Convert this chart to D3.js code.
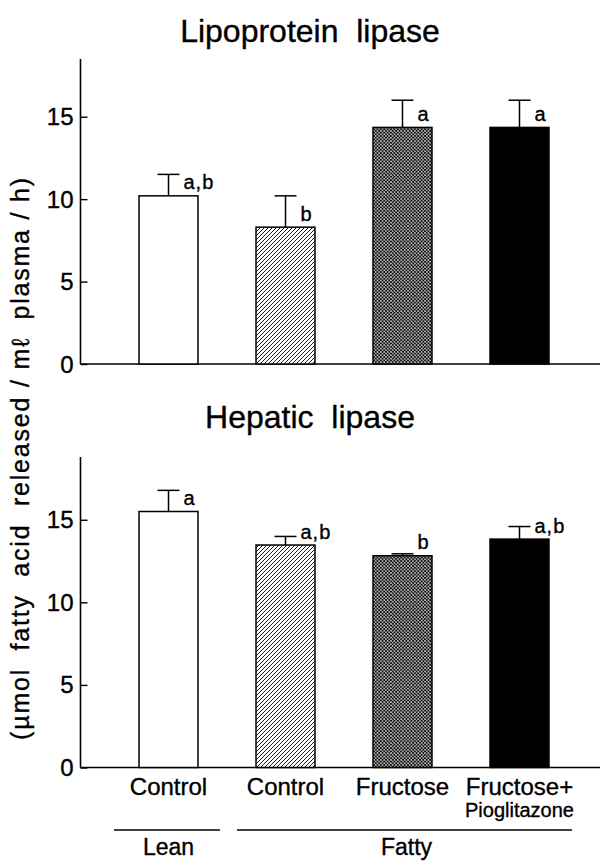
<!DOCTYPE html>
<html>
<head>
<meta charset="utf-8">
<script src="https://cdn.jsdelivr.net/npm/d3@7"></script>
<style>
  html, body { margin: 0; padding: 0; background: #fff; }
  svg { display: block; }
  text { font-family: "Liberation Sans", Arial, sans-serif; fill: #000; stroke: #000; stroke-width: 0.35px; white-space: pre; }
</style>
</head>
<body>
<svg id="chart" width="604" height="861"></svg>
<script>
// ---------- data ----------
const groups = ["LeanControl", "FattyControl", "FattyFructose", "FattyFructosePio"];
const catLine1 = ["Control", "Control", "Fructose", "Fructose+"];
const catLine2 = ["", "", "", "Pioglitazone"];
const fills = ["white", "hatch", "cross", "black"];

const lplMean = [10.2, 8.3, 14.35, 14.35];
const lplSE = [1.3, 1.9, 1.65, 1.65];
const lplLetters = ["a,b", "b", "a", "a"];

const hlMean = [15.5, 13.47, 12.82, 13.83];
const hlSE = [1.28, 0.52, 0.12, 0.76];
const hlLetters = ["a", "a,b", "b", "a,b"];

const yTicks = [0, 5, 10, 15];
const titles = ["Lipoprotein  lipase", "Hepatic  lipase"];
const yTitle = "(µmol  fatty  acid  released / mℓ  plasma / h)";
const strains = ["Lean", "Fatty"];

// ---------- drawing ----------
const svg = d3.select("#chart");
const defs = svg.append("defs");

const hatch = defs.append("pattern").attr("id", "hatch")
  .attr("patternUnits", "userSpaceOnUse").attr("width", 4).attr("height", 4);
hatch.append("rect").attr("width", 4).attr("height", 4).attr("fill", "white");
hatch.append("path").attr("d", "M-1,1 L1,-1 M0,4 L4,0 M3,5 L5,3")
  .attr("stroke", "black").attr("stroke-width", 0.9);

const cross = defs.append("pattern").attr("id", "cross")
  .attr("patternUnits", "userSpaceOnUse").attr("width", 3.4).attr("height", 3.4);
cross.append("rect").attr("width", 3.4).attr("height", 3.4).attr("fill", "white");
cross.append("path").attr("d", "M-1,1 L1,-1 M0,3.4 L3.4,0 M2.4,4.4 L4.4,2.4 M-1,2.4 L1,4.4 M0,0 L3.4,3.4 M2.4,-1 L4.4,1")
  .attr("stroke", "black").attr("stroke-width", 1.05);

const fillFor = f => f === "hatch" ? "url(#hatch)" : f === "cross" ? "url(#cross)" : f;

const x = d3.scaleBand().domain(groups).range([110, 578])
  .paddingInner(0.496).paddingOuter(0.248);

const axisX = 80.5;
const axisRight = 600;

function panel(y0, yTop, domainMax, means, ses, letters, title, titleY) {
  const y = d3.scaleLinear().domain([0, domainMax]).range([y0, yTop]);
  const g = svg.append("g");

  g.append("text").attr("x", 310).attr("y", titleY).attr("text-anchor", "middle")
    .attr("font-size", 32).text(title);

  // y axis (ticks inward)
  const yAxis = d3.axisRight(y).tickValues(yTicks).tickSize(7).tickFormat("");
  const ya = g.append("g").attr("transform", `translate(${axisX},0)`).call(yAxis);
  ya.select(".domain").remove();
  ya.selectAll("line").attr("stroke", "black").attr("stroke-width", 1.4);
  g.append("line").attr("x1", axisX).attr("x2", axisX).attr("y1", yTop).attr("y2", y0)
    .attr("stroke", "black").attr("stroke-width", 1.6);
  g.selectAll(".tl").data(yTicks).enter().append("text")
    .attr("x", axisX - 7).attr("y", d => y(d) + 8.5).attr("text-anchor", "end")
    .attr("font-size", 24).text(d => d);

  // x baseline
  g.append("line").attr("x1", axisX).attr("x2", axisRight).attr("y1", y0).attr("y2", y0)
    .attr("stroke", "black").attr("stroke-width", 1.6);

  // bars
  const idx = d3.range(groups.length);
  g.selectAll(".bar").data(idx).enter().append("rect")
    .attr("x", i => x(groups[i])).attr("width", x.bandwidth())
    .attr("y", i => y(means[i])).attr("height", i => y0 - y(means[i]))
    .attr("fill", i => fillFor(fills[i])).attr("stroke", "black").attr("stroke-width", 1.5);

  // error bars
  const cx = i => x(groups[i]) + x.bandwidth() / 2;
  g.selectAll(".eb").data(idx).enter().append("line")
    .attr("x1", cx).attr("x2", cx)
    .attr("y1", i => y(means[i])).attr("y2", i => y(means[i] + ses[i]))
    .attr("stroke", "black").attr("stroke-width", 1.5);
  g.selectAll(".cap").data(idx).enter().append("line")
    .attr("x1", i => cx(i) - 11).attr("x2", i => cx(i) + 11)
    .attr("y1", i => y(means[i] + ses[i])).attr("y2", i => y(means[i] + ses[i]))
    .attr("stroke", "black").attr("stroke-width", 1.5);

  // letters
  g.selectAll(".let").data(idx).enter().append("text")
    .attr("x", i => cx(i) + 15).attr("y", i => y(means[i]) - 6.5)
    .attr("font-size", 20).attr("letter-spacing", 1).text(i => letters[i]);
}

panel(364, 59, 18.5, lplMean, lplSE, lplLetters, titles[0], 42);
panel(767.5, 457, 18.8, hlMean, hlSE, hlLetters, titles[1], 428);

// category labels
const cxs = groups.map(gp => x(gp) + x.bandwidth() / 2);
svg.selectAll(".c1").data(groups).enter().append("text")
  .attr("x", (d, i) => cxs[i]).attr("y", 795).attr("text-anchor", "middle")
  .attr("font-size", 24).text((d, i) => catLine1[i]);
svg.selectAll(".c2").data(groups).enter().append("text")
  .attr("x", (d, i) => cxs[i]).attr("y", 817).attr("text-anchor", "middle")
  .attr("font-size", 20).text((d, i) => catLine2[i]);

// strain brackets
const strainSpans = [[0, 0], [1, 3]];
strainSpans.forEach((s, k) => {
  const xa = x(groups[s[0]]) - 25, xb = x(groups[s[1]]) + x.bandwidth() + 23;
  svg.append("line").attr("x1", k === 0 ? xa : xa + 6).attr("x2", k === 0 ? xb - 1 : xb)
    .attr("y1", 830).attr("y2", 830).attr("stroke", "black").attr("stroke-width", 1.4);
  svg.append("text").attr("x", k === 0 ? cxs[0] : (cxs[1] + cxs[3]) / 2 + 4).attr("y", 855)
    .attr("text-anchor", "middle").attr("font-size", 23).text(strains[k]);
});

// y title
svg.append("text").attr("transform", "translate(29,458) rotate(-90)")
  .attr("text-anchor", "middle").attr("font-size", 25).attr("letter-spacing", 1.8).text(yTitle);
</script>
</body>
</html>
